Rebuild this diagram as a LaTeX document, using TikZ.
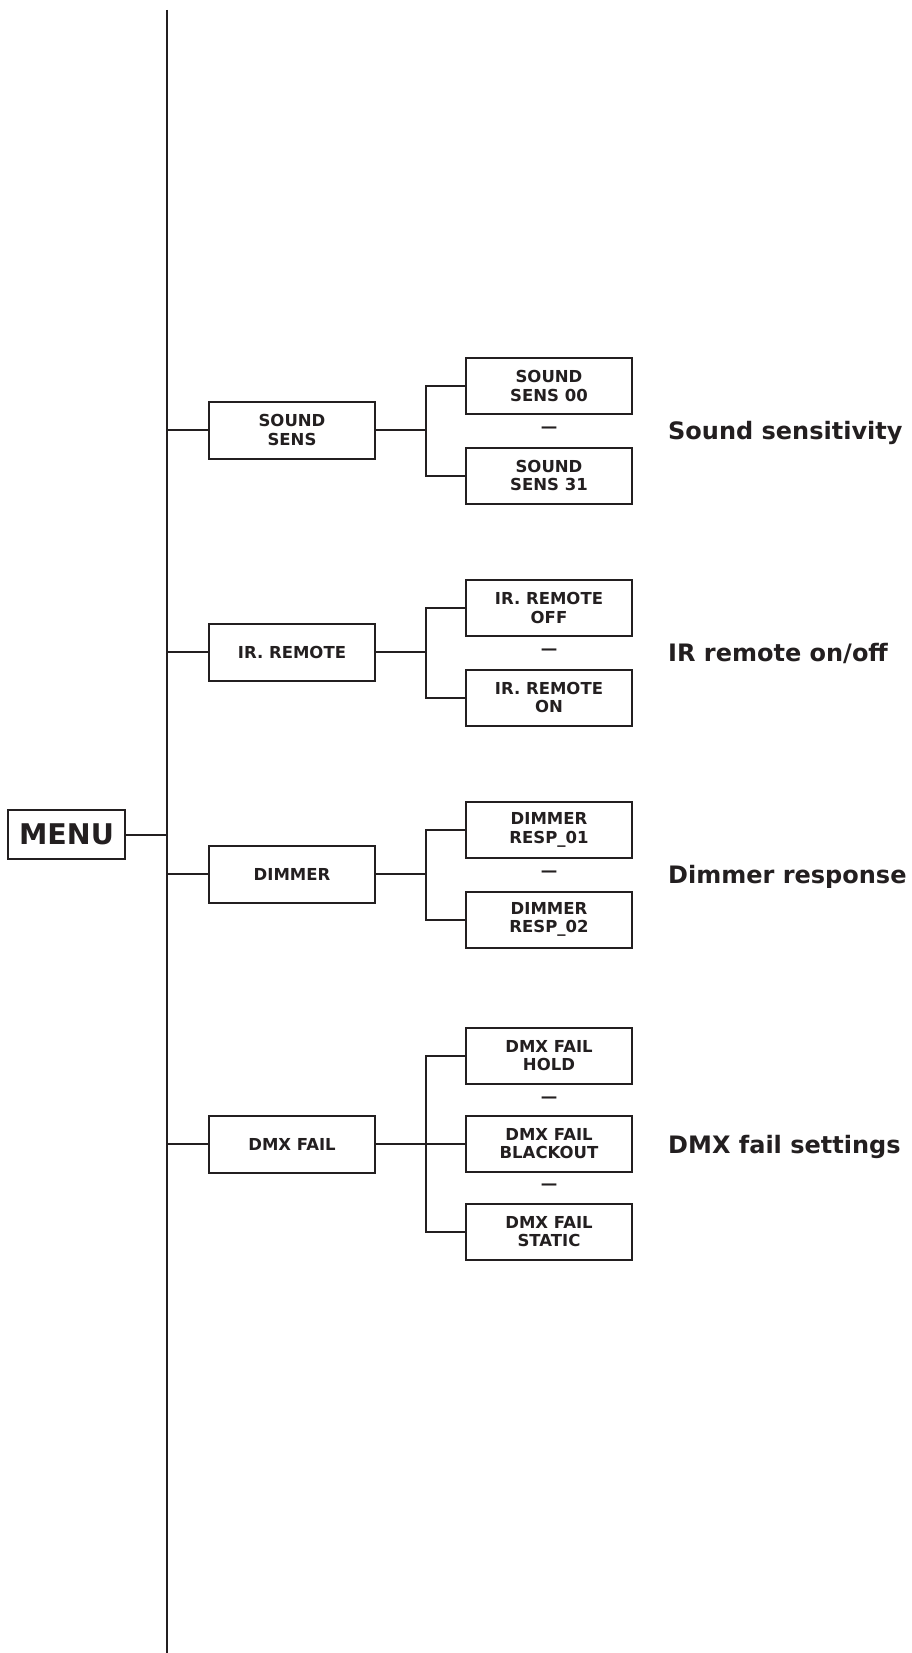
\documentclass[tikz,border=0pt]{standalone}
\usepackage{fontspec}
\setmainfont{DejaVu Sans}
\usetikzlibrary{calc}
\definecolor{ink}{RGB}{35,31,32}
\tikzset{
	menubox/.style={draw, line width=2.2pt, minimum width=117pt, minimum height=49pt, inner sep=0pt, font=\fontsize{28.5}{30}\selectfont\bfseries},
	mainbox/.style={draw, line width=2pt, minimum width=166pt, minimum height=57pt, inner sep=0pt, align=center, font=\fontsize{16.5}{18.5}\selectfont\bfseries},
	subbox/.style={mainbox, minimum height=56pt},
	gap/.style={inner sep=0pt, font=\fontsize{16.5}{18.5}\selectfont\bfseries},
	caption/.style={anchor=base west, inner sep=0pt, font=\fontsize{24}{26}\selectfont\bfseries},
	wire/.style={line width=2pt}
}

\begin{document}
\begin{tikzpicture}[x=1pt, y=-1pt, color=ink]
		%%%%% START %%%%%
		\useasboundingbox (0, 0) rectangle (912, 1653);
		
		\coordinate (spinetop) at (167, 10);
		\coordinate (spinebot) at (167, 1653);
		\draw[line width=2.4pt] (spinetop) -- (spinebot);
		
		\node[menubox] (menu) at (66.5, 834.5) {MENU};
		\draw[wire] (menu.east) -- (menu.east -| spinetop);
		
		%% sound sensitivity
		\node[mainbox] (sens) at (292, 430) {SOUND\\SENS};
		\node[subbox] (sens00) at (549, 386) {SOUND\\SENS 00};
		\node[gap] (sensgap) at (549, 430) {—};
		\node[subbox] (sens31) at (549, 475.5) {SOUND\\SENS 31};
		\coordinate (sensfork) at (426, 430);
		\draw[wire] (sens.west) -- (sens.west -| spinetop);
		\draw[wire] (sens.east) -- (sensfork);
		\draw[wire] (sens00.west) -| (sensfork) |- (sens31.west);
		\node[caption] (senstext) at (668, 439) {Sound sensitivity};
		
		%% ir remote
		\node[mainbox] (ir) at (292, 652) {IR. REMOTE};
		\node[subbox] (iroff) at (549, 608) {IR. REMOTE\\OFF};
		\node[gap] (irgap) at (549, 652) {—};
		\node[subbox] (iron) at (549, 697.5) {IR. REMOTE\\ON};
		\coordinate (irfork) at (426, 652);
		\draw[wire] (ir.west) -- (ir.west -| spinetop);
		\draw[wire] (ir.east) -- (irfork);
		\draw[wire] (iroff.west) -| (irfork) |- (iron.west);
		\node[caption] (irtext) at (668, 661) {IR remote on/off};
		
		%% dimmer
		\node[mainbox] (dim) at (292, 874) {DIMMER};
		\node[subbox] (dim01) at (549, 830) {DIMMER\\RESP\_01};
		\node[gap] (dimgap) at (549, 874) {—};
		\node[subbox] (dim02) at (549, 919.5) {DIMMER\\RESP\_02};
		\coordinate (dimfork) at (426, 874);
		\draw[wire] (dim.west) -- (dim.west -| spinetop);
		\draw[wire] (dim.east) -- (dimfork);
		\draw[wire] (dim01.west) -| (dimfork) |- (dim02.west);
		\node[caption] (dimtext) at (668, 883) {Dimmer response};
		
		%% dmx fail
		\node[mainbox] (dmx) at (292, 1144) {DMX FAIL};
		\node[subbox] (dmxhold) at (549, 1055.5) {DMX FAIL\\HOLD};
		\node[gap] (dmxgapa) at (549, 1100) {—};
		\node[subbox] (dmxblack) at (549, 1143.5) {DMX FAIL\\BLACKOUT};
		\node[gap] (dmxgapb) at (549, 1187) {—};
		\node[subbox] (dmxstatic) at (549, 1231.5) {DMX FAIL\\STATIC};
		\coordinate (dmxfork) at (426, 1144);
		\draw[wire] (dmx.west) -- (dmx.west -| spinetop);
		\draw[wire] (dmx.east) -- (dmxfork);
		\draw[wire] (dmxhold.west) -| (dmxfork) |- (dmxstatic.west);
		\draw[wire] (dmxfork) -- (dmxfork -| dmxblack.west);
		\node[caption] (dmxtext) at (668, 1153) {DMX fail settings};
		
		%%%%% END %%%%%
	\end{tikzpicture}
\end{document}
